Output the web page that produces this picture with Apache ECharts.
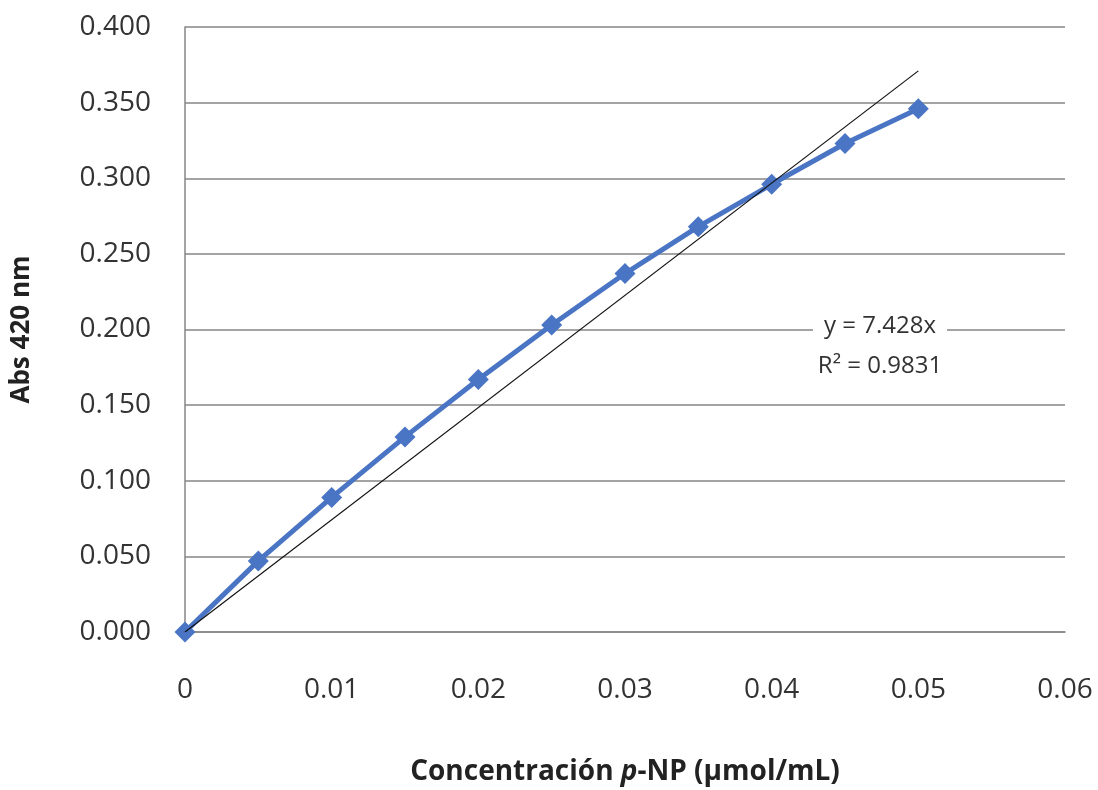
<!DOCTYPE html>
<html>
<head>
<meta charset="utf-8">
<script src="https://cdn.jsdelivr.net/npm/echarts@6/dist/echarts.min.js"></script>
<style>
  html, body { margin: 0; padding: 0; background: #fff; }
  #chart { width: 1098px; height: 790px; }
</style>
</head>
<body>
<div id="chart"></div>
<script>
// 浓度 (µmol/mL) 与吸光度
var concentracion = [0, 0.005, 0.01, 0.015, 0.02, 0.025, 0.03, 0.035, 0.04, 0.045, 0.05];
var absorbancia = [0.000, 0.047, 0.089, 0.129, 0.167, 0.203, 0.237, 0.268, 0.296, 0.323, 0.346];
// 趋势线 y = 7.428x 的两个端点
var trendX = [0, 0.05];
var trendY = [0, 0.371];
var yTicks = ['0.000', '0.050', '0.100', '0.150', '0.200', '0.250', '0.300', '0.350', '0.400'];
var xTicks = ['0', '0.01', '0.02', '0.03', '0.04', '0.05', '0.06'];

var font = '"Open Sans", "Noto Sans", sans-serif';
var chart = echarts.init(document.getElementById('chart'));

chart.setOption({
  animation: false,
  textStyle: { fontFamily: font },
  grid: { left: 185, right: 33, top: 27, bottom: 158, containLabel: false, outerBoundsMode: 'none' },
  xAxis: {
    type: 'value',
    min: 0, max: 0.06, interval: 0.01,
    axisLine: { show: true, lineStyle: { color: '#868686', width: 1.5 } },
    axisTick: { show: false },
    splitLine: { show: false },
    axisLabel: {
      margin: 44, fontSize: 28, color: '#333', fontFamily: font,
      formatter: function (v) { return xTicks[Math.round(v / 0.01)]; }
    },
    name: '{n|Concentración }{i|p}{n|-NP (µmol/mL)}',
    nameLocation: 'middle',
    nameGap: 126,
    nameTextStyle: {
      rich: {
        n: { fontSize: 28, fontWeight: 'bold', color: '#222', fontFamily: font },
        i: { fontSize: 28, fontWeight: 'bold', fontStyle: 'italic', color: '#222', fontFamily: font }
      }
    }
  },
  yAxis: {
    type: 'value',
    min: 0, max: 0.4, interval: 0.05,
    axisLine: { show: true, lineStyle: { color: '#868686', width: 1.5 } },
    axisTick: { show: false },
    splitLine: { show: true, lineStyle: { color: '#868686', width: 1.5 } },
    axisLabel: {
      margin: 34, fontSize: 28, color: '#333', fontFamily: font,
      formatter: function (v) { return yTicks[Math.round(v / 0.05)]; }
    },
    name: 'Abs 420 nm',
    nameLocation: 'middle',
    nameGap: 150,
    nameTextStyle: { fontSize: 26, fontWeight: 'bold', color: '#222', fontFamily: font }
  },
  series: [{
    name: 'Abs',
    type: 'line',
    data: concentracion.map(function (x, i) { return [x, absorbancia[i]]; }),
    symbol: 'diamond',
    symbolSize: 21,
    itemStyle: { color: '#4a74c4' },
    lineStyle: { color: '#4a74c4', width: 5 },
    z: 3
  }, {
    name: 'Tendencia',
    type: 'line',
    data: trendX.map(function (x, i) { return [x, trendY[i]]; }),
    symbol: 'none',
    lineStyle: { color: '#111', width: 1.2 },
    z: 4
  }],
  graphic: [{
    type: 'rect',
    x: 813, y: 314, z: 10,
    shape: { width: 134, height: 30 },
    style: { fill: '#fff' }
  }, {
    type: 'text',
    x: 880, y: 326, z: 11,
    style: {
      text: 'y = 7.428x', textAlign: 'center', textVerticalAlign: 'middle',
      font: '24px ' + font, fill: '#333'
    }
  }, {
    type: 'text',
    x: 880, y: 366, z: 11,
    style: {
      text: 'R² = 0.9831', textAlign: 'center', textVerticalAlign: 'middle',
      font: '24px ' + font, fill: '#333'
    }
  }]
});
</script>
</body>
</html>
